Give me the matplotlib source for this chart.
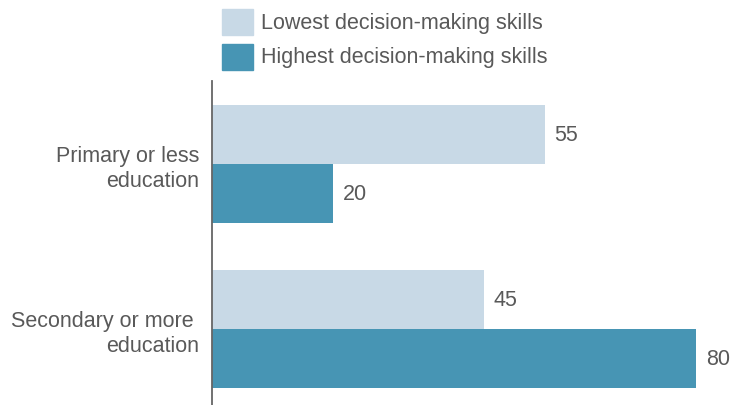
import numpy as np
import matplotlib.pyplot as plt
from matplotlib.patches import Rectangle

plt.rcParams['font.family'] = ['Liberation Sans', 'DejaVu Sans']

categories = ['Primary or less\neducation', 'Secondary or more \neducation']
series_names = ['Lowest decision-making skills', 'Highest decision-making skills']
lowest = [55, 45]
highest = [20, 80]
colors = ['#c8d9e6', '#4795b4']
text_col = '#595959'

fig = plt.figure(figsize=(7.32, 4.06), dpi=100)
ax = fig.add_axes([212/732, 0, 520/732, 324/406])

y = np.arange(len(categories))
h = 0.36
ax.barh(y - h/2, lowest, height=h, color=colors[0])
ax.barh(y + h/2, highest, height=h, color=colors[1])

for yy, v in zip(y - h/2, lowest):
    ax.text(v + 1.6, yy, str(v), va='center', ha='left', fontsize=15.5, color=text_col)
for yy, v in zip(y + h/2, highest):
    ax.text(v + 1.6, yy, str(v), va='center', ha='left', fontsize=15.5, color=text_col)

ax.set_xlim(0, 520/6.05)
ax.set_ylim(1.461, -0.503)
ax.set_xticks([])
ax.set_yticks(y)
ax.set_yticklabels(categories, fontsize=15.5, color=text_col)
ax.tick_params(axis='y', length=0, pad=9)
for s in ['top', 'right', 'bottom']:
    ax.spines[s].set_visible(False)
ax.spines['left'].set_color('#666666')
ax.spines['left'].set_linewidth(1.3)

# legend drawn by hand at the top
for i, name in enumerate(series_names):
    top = 10 + i * 35
    fig.patches.append(Rectangle((222/732, 1 - (top + 26)/406), 31/732, 26/406,
                                 transform=fig.transFigure, color=colors[i]))
    fig.text(261/732, 1 - (top + 13)/406, name, va='center', ha='left',
             fontsize=15.5, color=text_col)

plt.savefig('out.png', dpi=100)
